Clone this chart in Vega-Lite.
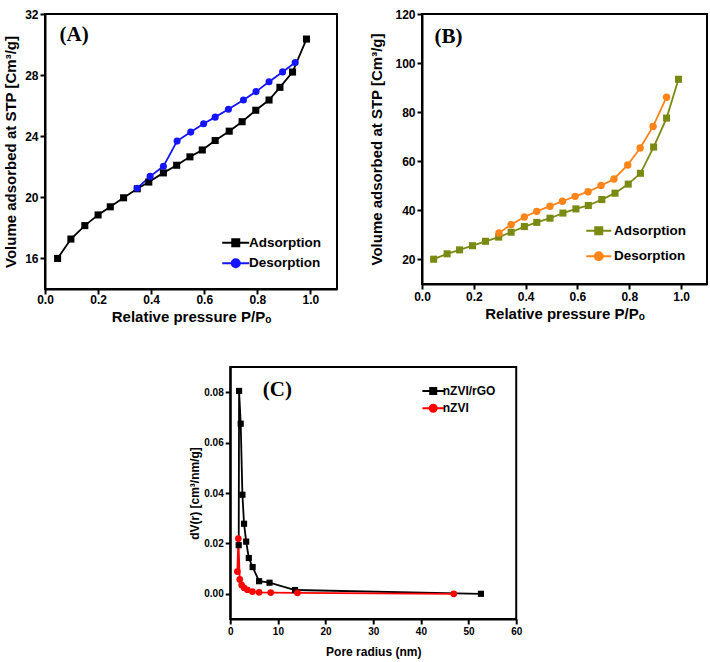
{
  "$schema": "https://vega.github.io/schema/vega-lite/v6.json",
  "padding": {"left": 2, "top": 7, "right": 5, "bottom": 5},
  "background": "white",
  "datasets": {
    "A": [
      {"x": 0.0475, "y": 16.0, "series": "Adsorption"},
      {"x": 0.0975, "y": 17.27, "series": "Adsorption"},
      {"x": 0.15, "y": 18.15, "series": "Adsorption"},
      {"x": 0.2, "y": 18.85, "series": "Adsorption"},
      {"x": 0.246, "y": 19.38, "series": "Adsorption"},
      {"x": 0.296, "y": 19.97, "series": "Adsorption"},
      {"x": 0.3475, "y": 20.56, "series": "Adsorption"},
      {"x": 0.391, "y": 21.0, "series": "Adsorption"},
      {"x": 0.446, "y": 21.6, "series": "Adsorption"},
      {"x": 0.496, "y": 22.1, "series": "Adsorption"},
      {"x": 0.546, "y": 22.65, "series": "Adsorption"},
      {"x": 0.5925, "y": 23.1, "series": "Adsorption"},
      {"x": 0.641, "y": 23.72, "series": "Adsorption"},
      {"x": 0.694, "y": 24.33, "series": "Adsorption"},
      {"x": 0.7425, "y": 24.95, "series": "Adsorption"},
      {"x": 0.794, "y": 25.7, "series": "Adsorption"},
      {"x": 0.844, "y": 26.37, "series": "Adsorption"},
      {"x": 0.885, "y": 27.2, "series": "Adsorption"},
      {"x": 0.9325, "y": 28.2, "series": "Adsorption"},
      {"x": 0.985, "y": 30.36, "series": "Adsorption"},
      {"x": 0.3475, "y": 20.6, "series": "Desorption"},
      {"x": 0.396, "y": 21.37, "series": "Desorption"},
      {"x": 0.446, "y": 22.03, "series": "Desorption"},
      {"x": 0.4975, "y": 23.68, "series": "Desorption"},
      {"x": 0.549, "y": 24.27, "series": "Desorption"},
      {"x": 0.5975, "y": 24.82, "series": "Desorption"},
      {"x": 0.641, "y": 25.25, "series": "Desorption"},
      {"x": 0.691, "y": 25.76, "series": "Desorption"},
      {"x": 0.7475, "y": 26.37, "series": "Desorption"},
      {"x": 0.795, "y": 26.92, "series": "Desorption"},
      {"x": 0.844, "y": 27.56, "series": "Desorption"},
      {"x": 0.895, "y": 28.21, "series": "Desorption"},
      {"x": 0.9425, "y": 28.82, "series": "Desorption"}
    ],
    "B": [
      {"x": 0.045, "y": 20.1, "series": "Adsorption"},
      {"x": 0.097, "y": 22.3, "series": "Adsorption"},
      {"x": 0.145, "y": 23.9, "series": "Adsorption"},
      {"x": 0.195, "y": 25.6, "series": "Adsorption"},
      {"x": 0.245, "y": 27.4, "series": "Adsorption"},
      {"x": 0.296, "y": 29.1, "series": "Adsorption"},
      {"x": 0.344, "y": 31.1, "series": "Adsorption"},
      {"x": 0.395, "y": 33.4, "series": "Adsorption"},
      {"x": 0.443, "y": 35.1, "series": "Adsorption"},
      {"x": 0.494, "y": 36.8, "series": "Adsorption"},
      {"x": 0.544, "y": 38.9, "series": "Adsorption"},
      {"x": 0.594, "y": 40.6, "series": "Adsorption"},
      {"x": 0.642, "y": 42.0, "series": "Adsorption"},
      {"x": 0.694, "y": 44.4, "series": "Adsorption"},
      {"x": 0.745, "y": 47.0, "series": "Adsorption"},
      {"x": 0.796, "y": 50.7, "series": "Adsorption"},
      {"x": 0.843, "y": 55.1, "series": "Adsorption"},
      {"x": 0.894, "y": 65.8, "series": "Adsorption"},
      {"x": 0.944, "y": 77.6, "series": "Adsorption"},
      {"x": 0.99, "y": 93.4, "series": "Adsorption"},
      {"x": 0.297, "y": 30.8, "series": "Desorption"},
      {"x": 0.344, "y": 34.2, "series": "Desorption"},
      {"x": 0.395, "y": 37.3, "series": "Desorption"},
      {"x": 0.443, "y": 39.6, "series": "Desorption"},
      {"x": 0.494, "y": 41.7, "series": "Desorption"},
      {"x": 0.542, "y": 43.7, "series": "Desorption"},
      {"x": 0.591, "y": 45.7, "series": "Desorption"},
      {"x": 0.641, "y": 47.6, "series": "Desorption"},
      {"x": 0.691, "y": 50.1, "series": "Desorption"},
      {"x": 0.741, "y": 52.8, "series": "Desorption"},
      {"x": 0.794, "y": 58.5, "series": "Desorption"},
      {"x": 0.842, "y": 65.4, "series": "Desorption"},
      {"x": 0.892, "y": 74.2, "series": "Desorption"},
      {"x": 0.944, "y": 86.1, "series": "Desorption"}
    ],
    "C": [
      {"x": 1.78, "y": 0.0193, "series": "nZVI/rGO"},
      {"x": 1.86, "y": 0.0805, "series": "nZVI/rGO"},
      {"x": 2.2, "y": 0.0675, "series": "nZVI/rGO"},
      {"x": 2.56, "y": 0.0393, "series": "nZVI/rGO"},
      {"x": 2.9, "y": 0.0278, "series": "nZVI/rGO"},
      {"x": 3.35, "y": 0.0207, "series": "nZVI/rGO"},
      {"x": 3.9, "y": 0.0142, "series": "nZVI/rGO"},
      {"x": 4.7, "y": 0.0106, "series": "nZVI/rGO"},
      {"x": 6.06, "y": 0.005, "series": "nZVI/rGO"},
      {"x": 8.25, "y": 0.0044, "series": "nZVI/rGO"},
      {"x": 13.6, "y": 0.0015, "series": "nZVI/rGO"},
      {"x": 52.6, "y": 0.0, "series": "nZVI/rGO"},
      {"x": 1.5, "y": 0.0088, "series": "nZVI"},
      {"x": 1.7, "y": 0.0219, "series": "nZVI"},
      {"x": 2.0, "y": 0.0057, "series": "nZVI"},
      {"x": 2.4, "y": 0.0035, "series": "nZVI"},
      {"x": 2.9, "y": 0.0024, "series": "nZVI"},
      {"x": 3.6, "y": 0.0016, "series": "nZVI"},
      {"x": 4.66, "y": 0.0009, "series": "nZVI"},
      {"x": 6.06, "y": 0.0006, "series": "nZVI"},
      {"x": 8.5, "y": 0.0005, "series": "nZVI"},
      {"x": 14.1, "y": 0.0004, "series": "nZVI"},
      {"x": 46.9, "y": 0.0, "series": "nZVI"}
    ],
    "labA": [{"x": 0.11, "y": 30.6, "label": "(A)"}],
    "labB": [{"x": 0.102, "y": 110.8, "label": "(B)"}],
    "labC": [{"x": 9.9, "y": 0.081, "label": "(C)"}]
  },
  "vconcat": [
    {
      "hconcat": [
        {
          "width": 292,
          "height": 275,
          "encoding": {
            "x": {"field": "x", "type": "quantitative", "scale": {"domain": [0, 1.1], "nice": false, "zero": false},
                  "axis": {"title": "Relative pressure P/Pₒ", "values": [0, 0.2, 0.4, 0.6, 0.8, 1.0], "format": ".1f", "labelFontSize": 12, "titleFontSize": 15, "labelFlush": false, "labelPadding": 0, "titlePadding": 4}},
            "y": {"field": "y", "type": "quantitative", "scale": {"domain": [14, 32], "nice": false, "zero": false},
                  "axis": {"title": "Volume adsorbed at STP [Cm³/g]", "values": [16, 20, 24, 28, 32], "labelFontSize": 12, "titleFontSize": 15, "labelFlush": false, "titlePadding": 6}}
          },
          "layer": [
            {
              "data": {"name": "A"},
              "mark": {"type": "line", "strokeWidth": 1.8},
              "encoding": {
                "color": {"field": "series", "type": "nominal",
                  "scale": {"domain": ["Adsorption", "Desorption"], "range": ["#000000", "#1414ff"]},
                  "legend": {"title": null, "orient": "none", "legendX": 184, "legendY": 222, "padding": 0,
                    "labelFont": "Liberation Sans", "labelFontSize": 13.5, "labelFontWeight": "bold", "labelColor": "black",
                    "rowPadding": 3.5, "labelOffset": 6.5, "symbolStrokeWidth": 2,
                    "encode": {"symbols": {"update": {
                      "shape": {"signal": "datum.value === 'Adsorption' ? 'M-2.7,0H2.7M-0.7,-0.7H0.7V0.7H-0.7Z' : 'M-2.7,0H2.7M0.8,0A0.8,0.8,0,1,1,-0.8,0A0.8,0.8,0,1,1,0.8,0Z'"},
                      "fill": {"signal": "datum.value === 'Adsorption' ? '#000000' : '#1414ff'"},
                      "stroke": {"signal": "datum.value === 'Adsorption' ? '#000000' : '#1414ff'"},
                      "size": {"value": 100},
                      "opacity": {"value": 1}
                    }}}
                  }}
              }
            },
            {
              "data": {"name": "A"},
              "transform": [{"filter": "datum.series === 'Adsorption'"}],
              "mark": {"type": "point", "filled": true, "size": 50, "opacity": 1, "shape": "square", "color": "#000000"}
            },
            {
              "data": {"name": "A"},
              "transform": [{"filter": "datum.series === 'Desorption'"}],
              "mark": {"type": "point", "filled": true, "size": 50, "opacity": 1, "shape": "circle", "color": "#1414ff"}
            },
            {
              "data": {"name": "labA"},
              "mark": {"type": "text", "font": "Liberation Serif", "fontWeight": "bold", "fontSize": 21, "color": "black"},
              "encoding": {"text": {"field": "label"}}
            }
          ]
        },
        {
          "width": 285,
          "height": 270,
          "encoding": {
            "x": {"field": "x", "type": "quantitative", "scale": {"domain": [0, 1.1], "nice": false, "zero": false},
                  "axis": {"title": "Relative pressure P/Pₒ", "values": [0, 0.2, 0.4, 0.6, 0.8, 1.0], "format": ".1f", "labelFontSize": 12, "titleFontSize": 15, "labelFlush": false, "titlePadding": 4}},
            "y": {"field": "y", "type": "quantitative", "scale": {"domain": [10, 120], "nice": false, "zero": false},
                  "axis": {"title": "Volume adsorbed at STP [Cm³/g]", "values": [20, 40, 60, 80, 100, 120], "labelFontSize": 12, "titleFontSize": 15, "labelFlush": false, "titlePadding": 10}}
          },
          "layer": [
            {
              "data": {"name": "B"},
              "mark": {"type": "line", "strokeWidth": 1.8},
              "encoding": {
                "color": {"field": "series", "type": "nominal",
                  "scale": {"domain": ["Adsorption", "Desorption"], "range": ["#7b8a12", "#ff8419"]},
                  "legend": {"title": null, "orient": "none", "legendX": 170, "legendY": 210, "padding": 0,
                    "labelFont": "Liberation Sans", "labelFontSize": 13.5, "labelFontWeight": "bold", "labelColor": "black",
                    "rowPadding": 8.5, "labelOffset": 8.5, "symbolStrokeWidth": 2,
                    "encode": {"symbols": {"update": {
                      "shape": {"signal": "datum.value === 'Adsorption' ? 'M-2.5,0H2.5M-0.7,-0.7H0.7V0.7H-0.7Z' : 'M-2.5,0H2.5M0.8,0A0.8,0.8,0,1,1,-0.8,0A0.8,0.8,0,1,1,0.8,0Z'"},
                      "fill": {"signal": "datum.value === 'Adsorption' ? '#7b8a12' : '#ff8419'"},
                      "stroke": {"signal": "datum.value === 'Adsorption' ? '#7b8a12' : '#ff8419'"},
                      "size": {"value": 100},
                      "opacity": {"value": 1}
                    }}}
                  }}
              }
            },
            {
              "data": {"name": "B"},
              "transform": [{"filter": "datum.series === 'Adsorption'"}],
              "mark": {"type": "point", "filled": true, "size": 50, "opacity": 1, "shape": "square", "color": "#7b8a12"}
            },
            {
              "data": {"name": "B"},
              "transform": [{"filter": "datum.series === 'Desorption'"}],
              "mark": {"type": "point", "filled": true, "size": 55, "opacity": 1, "shape": "circle", "color": "#ff8419"}
            },
            {
              "data": {"name": "labB"},
              "mark": {"type": "text", "font": "Liberation Serif", "fontWeight": "bold", "fontSize": 21, "color": "black"},
              "encoding": {"text": {"field": "label"}}
            }
          ]
        }
      ],
      "spacing": 30,
      "resolve": {"scale": {"color": "independent"}, "legend": {"color": "independent"}}
    },
    {
      "width": 286,
      "height": 252,
      "encoding": {
        "x": {"field": "x", "type": "quantitative", "scale": {"domain": [0, 60], "nice": false, "zero": false},
              "axis": {"title": "Pore radius (nm)", "values": [0, 10, 20, 30, 40, 50, 60], "labelFontSize": 10, "titleFontSize": 12, "labelFlush": false, "titlePadding": 10}},
        "y": {"field": "y", "type": "quantitative", "scale": {"domain": [-0.01, 0.09], "nice": false, "zero": false},
              "axis": {"title": "dV(r) [cm³/nm/g]", "values": [0, 0.02, 0.04, 0.06, 0.08], "format": ".2f", "labelFontSize": 10, "titleFontSize": 12, "labelFlush": false, "titlePadding": 2}}
      },
      "layer": [
        {
          "data": {"name": "C"},
          "mark": {"type": "line", "strokeWidth": 1.8},
          "encoding": {
            "color": {"field": "series", "type": "nominal",
              "scale": {"domain": ["nZVI/rGO", "nZVI"], "range": ["#000000", "#ff0000"]},
              "legend": {"title": null, "orient": "none", "legendX": 197, "legendY": 18, "padding": 0,
                "labelFont": "Liberation Sans", "labelFontSize": 12, "labelFontWeight": "bold", "labelColor": "black",
                "rowPadding": 2.2, "labelOffset": 3.5, "symbolStrokeWidth": 2,
                "encode": {"symbols": {"update": {
                  "shape": {"signal": "datum.value === 'nZVI/rGO' ? 'M-2.16,0H2.16M-0.6,-0.6H0.6V0.6H-0.6Z' : 'M-2.16,0H2.16M0.7,0A0.7,0.7,0,1,1,-0.7,0A0.7,0.7,0,1,1,0.7,0Z'"},
                  "fill": {"signal": "datum.value === 'nZVI/rGO' ? '#000000' : '#ff0000'"},
                  "stroke": {"signal": "datum.value === 'nZVI/rGO' ? '#000000' : '#ff0000'"},
                  "size": {"value": 100},
                  "opacity": {"value": 1}
                }}}
              }}
          }
        },
        {
          "data": {"name": "C"},
          "transform": [{"filter": "datum.series === 'nZVI/rGO'"}],
          "mark": {"type": "point", "filled": true, "size": 38, "opacity": 1, "shape": "square", "color": "#000000"}
        },
        {
          "data": {"name": "C"},
          "transform": [{"filter": "datum.series === 'nZVI'"}],
          "mark": {"type": "point", "filled": true, "size": 45, "opacity": 1, "shape": "circle", "color": "#ff0000"}
        },
        {
          "data": {"name": "labC"},
          "mark": {"type": "text", "font": "Liberation Serif", "fontWeight": "bold", "fontSize": 21, "color": "black"},
          "encoding": {"text": {"field": "label"}}
        }
      ]
    }
  ],
  "spacing": 41,
  "center": true,
  "resolve": {"scale": {"color": "independent"}, "legend": {"color": "independent"}},
  "config": {
    "view": {"stroke": "black", "strokeWidth": 2},
    "axis": {"domainColor": "black", "domainWidth": 2, "tickColor": "black", "tickWidth": 2, "tickSize": 5, "labelPadding": 2,
             "labelFont": "Liberation Sans", "labelFontWeight": "bold", "labelColor": "black",
             "titleFont": "Liberation Sans", "titleFontWeight": "bold", "titleColor": "black", "grid": false}
  }
}
